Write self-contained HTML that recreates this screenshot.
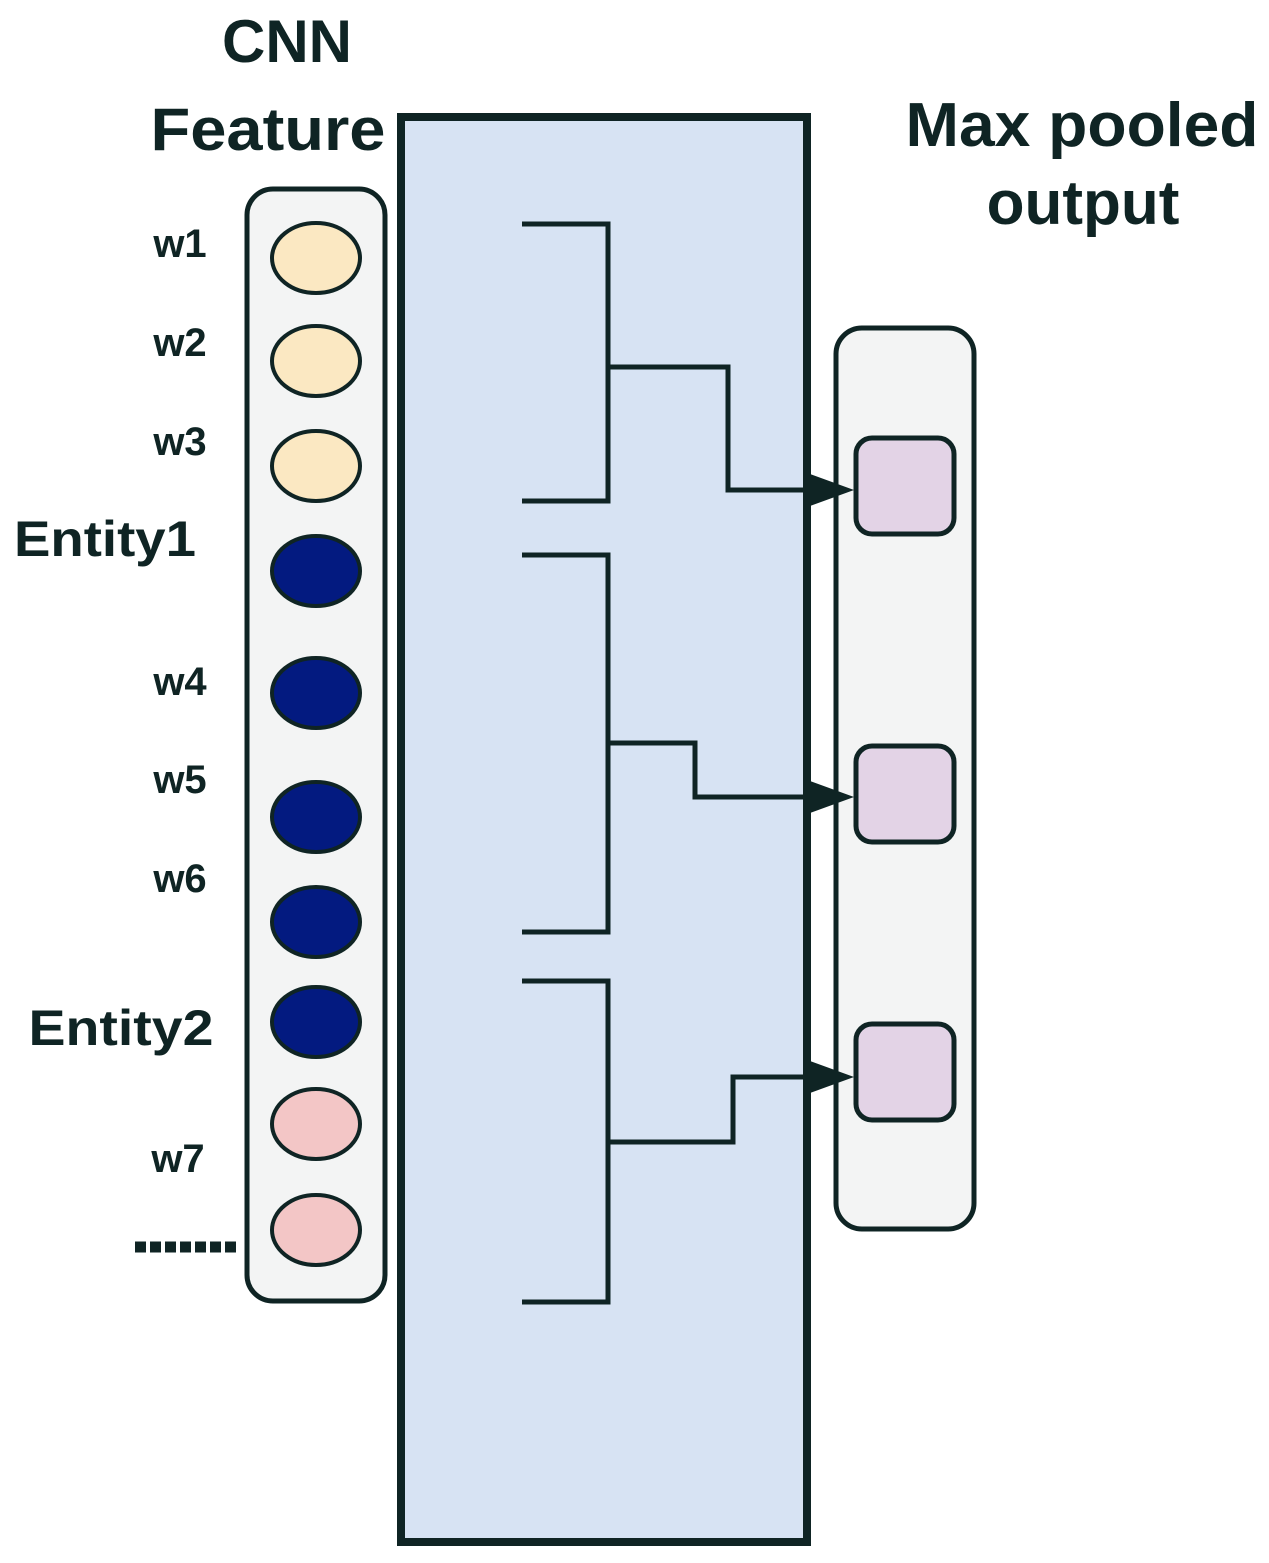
<!DOCTYPE html>
<html><head><meta charset="utf-8"><style>
html,body{margin:0;padding:0;background:#fff;}
svg{display:block;}
text{font-family:"Liberation Sans",Arial,sans-serif;font-weight:bold;fill:#0f2424;}
</style></head><body>
<svg width="1269" height="1563" viewBox="0 0 1269 1563" xmlns="http://www.w3.org/2000/svg">
<rect x="0" y="0" width="1269" height="1563" fill="#fff"/>
<!-- big blue box -->
<rect x="401" y="117" width="406" height="1425" fill="#d7e3f3" stroke="#0f2424" stroke-width="8"/>
<!-- left column -->
<rect x="247" y="189" width="138" height="1112" rx="26" fill="#f3f4f4" stroke="#0f2424" stroke-width="5"/>
<g stroke="#0f2424" stroke-width="4">
<ellipse cx="316" cy="258" rx="44" ry="35" fill="#fbe8c2"/>
<ellipse cx="316" cy="361" rx="44" ry="35" fill="#fbe8c2"/>
<ellipse cx="316" cy="466" rx="44" ry="35" fill="#fbe8c2"/>
<ellipse cx="316" cy="571" rx="44" ry="35" fill="#031a80"/>
<ellipse cx="316" cy="693" rx="44" ry="35" fill="#031a80"/>
<ellipse cx="316" cy="817" rx="44" ry="35" fill="#031a80"/>
<ellipse cx="316" cy="922" rx="44" ry="35" fill="#031a80"/>
<ellipse cx="316" cy="1022" rx="44" ry="35" fill="#031a80"/>
<ellipse cx="316" cy="1124" rx="44" ry="35" fill="#f3c6c6"/>
<ellipse cx="316" cy="1230" rx="44" ry="35" fill="#f3c6c6"/>
</g>
<!-- right column -->
<rect x="836" y="328" width="138" height="901" rx="26" fill="#f3f4f4" stroke="#0f2424" stroke-width="5"/>
<g stroke="#0f2424" stroke-width="5" fill="#e3d3e6">
<rect x="856" y="438" width="98" height="96" rx="16"/>
<rect x="856" y="746" width="98" height="96" rx="16"/>
<rect x="856" y="1024" width="98" height="96" rx="16"/>
</g>
<!-- brackets and connectors -->
<g stroke="#0f2424" stroke-width="5" fill="none">
<polyline points="522,224 608,224 608,501 522,501"/>
<polyline points="608,367 728,367 728,490 830,490"/>
<polyline points="522,555 608,555 608,932 522,932"/>
<polyline points="608,743 695,743 695,797 830,797"/>
<polyline points="522,981 608,981 608,1302 522,1302"/>
<polyline points="608,1142 733,1142 733,1077 830,1077"/>
</g>
<g fill="#0f2424">
<polygon points="810,474 854,490 810,506"/>
<polygon points="810,781 854,797 810,813"/>
<polygon points="810,1061 854,1077 810,1093"/>
</g>
<!-- dots -->
<line x1="135" y1="1247" x2="240" y2="1247" stroke="#0f2424" stroke-width="11" stroke-dasharray="11,4"/>
<!-- labels -->
<text x="287" y="62" font-size="60" text-anchor="middle">CNN</text>
<text x="268" y="150" font-size="60" text-anchor="middle" textLength="235" lengthAdjust="spacingAndGlyphs">Feature</text>
<text x="1082" y="146" font-size="62" text-anchor="middle" textLength="353" lengthAdjust="spacingAndGlyphs">Max pooled</text>
<text x="1083" y="224" font-size="62" text-anchor="middle">output</text>
<text x="180" y="257" font-size="40" text-anchor="middle">w1</text>
<text x="180" y="356" font-size="40" text-anchor="middle">w2</text>
<text x="180" y="455" font-size="40" text-anchor="middle">w3</text>
<text x="105" y="556" font-size="50" text-anchor="middle" textLength="182" lengthAdjust="spacingAndGlyphs">Entity1</text>
<text x="180" y="695" font-size="40" text-anchor="middle">w4</text>
<text x="180" y="793" font-size="40" text-anchor="middle">w5</text>
<text x="180" y="892" font-size="40" text-anchor="middle">w6</text>
<text x="121" y="1045" font-size="50" text-anchor="middle" textLength="185" lengthAdjust="spacingAndGlyphs">Entity2</text>
<text x="178" y="1172" font-size="40" text-anchor="middle">w7</text>
</svg>
</body></html>
